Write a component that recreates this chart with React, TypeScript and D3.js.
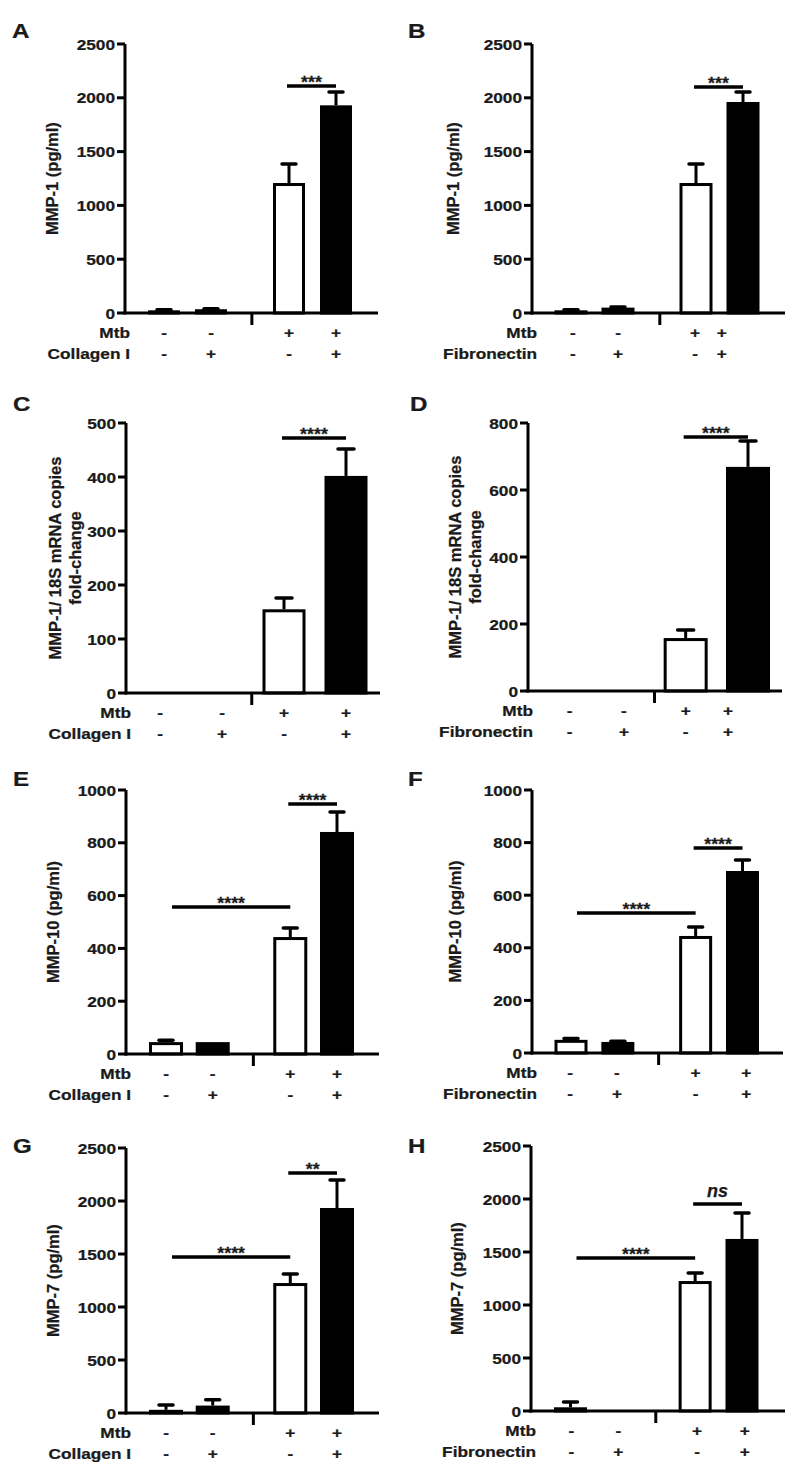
import React from "react";
import * as d3 from "d3";

// ---------- DATA ----------
const groups = ["Mtb-/ECM-", "Mtb-/ECM+", "Mtb+/ECM-", "Mtb+/ECM+"];
const mtbSigns = ["-", "-", "+", "+"];
const ecmSigns = ["-", "+", "-", "+"];

const panelLetters = ["A", "B", "C", "D", "E", "F", "G", "H"];
const ecmNames = ["Collagen I", "Fibronectin", "Collagen I", "Fibronectin", "Collagen I", "Fibronectin", "Collagen I", "Fibronectin"];
const yTitles = [
  ["MMP-1 (pg/ml)"],
  ["MMP-1 (pg/ml)"],
  ["MMP-1/ 18S mRNA copies", "fold-change"],
  ["MMP-1/ 18S mRNA copies", "fold-change"],
  ["MMP-10 (pg/ml)"],
  ["MMP-10 (pg/ml)"],
  ["MMP-7 (pg/ml)"],
  ["MMP-7 (pg/ml)"],
];
const yMaxes = [2500, 2500, 500, 800, 1000, 1000, 2500, 2500];
const yTickSteps = [500, 500, 100, 200, 200, 200, 500, 500];

const meansA = [25, 35, 1208, 1930];
const errA = [5, 5, 177, 124];
const meansB = [25, 50, 1208, 1961];
const errB = [5, 5, 177, 93];
const meansC = [1, 2, 155, 402];
const errC = [0, 0, 21, 50];
const meansD = [1, 2, 158, 669];
const errD = [0, 0, 24, 77];
const meansE = [45, 45, 443, 841];
const errE = [7, 0, 34, 76];
const meansF = [50, 42, 445, 692];
const errF = [5, 3, 34, 42];
const meansG = [30, 70, 1226, 1934];
const errG = [45, 55, 85, 264];
const meansH = [35, 0, 1226, 1623];
const errH = [50, 0, 76, 245];

const sigA = [{ a: 2, b: 3, v: 2110, t: "***" }];
const sigB = [{ a: 2, b: 3, v: 2100, t: "***" }];
const sigC = [{ a: 2, b: 3, v: 472, t: "****" }];
const sigD = [{ a: 2, b: 3, v: 758, t: "****" }];
const sigE = [{ a: 0, b: 2, v: 557, t: "****" }, { a: 2, b: 3, v: 947, t: "****" }];
const sigF = [{ a: 0, b: 2, v: 532, t: "****" }, { a: 2, b: 3, v: 779, t: "****" }];
const sigG = [{ a: 0, b: 2, v: 1472, t: "****" }, { a: 2, b: 3, v: 2264, t: "**" }];
const sigH = [{ a: 0, b: 2, v: 1443, t: "****" }, { a: 2, b: 3, v: 1953, t: "ns" }];

const allMeans = [meansA, meansB, meansC, meansD, meansE, meansF, meansG, meansH];
const allErrs = [errA, errB, errC, errD, errE, errF, errG, errH];
const allSigs = [sigA, sigB, sigC, sigD, sigE, sigF, sigG, sigH];

// ---------- LAYOUT ----------
const STD = [0, 1, 2.66, 3.66];
const EVEN = [0, 1, 2, 3];
const LAYOUT = [
  { axisX: 125, yTop: 44, y0: 313, xEnd: 378, r: [39, 211], slots: STD, bw: 32, brk: 1.87, lab: STD, tdx: [-73], letter: [12, 38], cap: 14 },
  { axisX: 532, yTop: 44, y0: 313, xEnd: 785, r: [39, 211], slots: STD, bw: 33, brk: 1.89, lab: [0.04, 1, 2.64, 3.21], tdx: [-79], letter: [408, 38], cap: 14 },
  { axisX: 126, yTop: 423, y0: 693, xEnd: 380, r: [34, 220], slots: EVEN, bw: 43, brk: 1.48, lab: EVEN, tdx: [-71, -51], letter: [13, 411], cap: 16 },
  { axisX: 528, yTop: 423, y0: 691, xEnd: 782, r: [33, 220], slots: EVEN, bw: 44, brk: 1.5, lab: [0.14, 1.01, 2, 2.68], tdx: [-73, -53], letter: [410, 411], cap: 16 },
  { axisX: 126, yTop: 790, y0: 1054, xEnd: 379, r: [40, 211], slots: STD, bw: 34, brk: 1.87, lab: STD, tdx: [-73], letter: [13, 786], cap: 14 },
  { axisX: 532, yTop: 790, y0: 1053, xEnd: 783, r: [39, 210.5], slots: STD, bw: 33, brk: 1.87, lab: [-0.02, 0.98, 2.66, 3.74], tdx: [-77], letter: [408, 786], cap: 14 },
  { axisX: 126, yTop: 1148, y0: 1413, xEnd: 379, r: [40, 211], slots: STD, bw: 34, brk: 1.87, lab: STD, tdx: [-73], letter: [13, 1153], cap: 14 },
  { axisX: 531, yTop: 1146, y0: 1411, xEnd: 785, r: [39.5, 211], slots: STD, bw: 33, brk: 1.82, lab: [0.02, 1.02, 2.7, 3.72], tdx: [-74], letter: [408, 1153], cap: 14 },
];

const FONT = "'Liberation Sans', Arial, Helvetica, sans-serif";
const SX = 1.15;
const INK = "#1a1a1a";
const fills = ["white", "black", "white", "black"];

function HText({ x, y, size = 15, anchor = "middle", italic = false, sx = SX, children, baseline }: any) {
  return (
    <text
      transform={`translate(${x},${y}) scale(${sx},1)`}
      fontSize={size}
      fontWeight="bold"
      fontStyle={italic ? "italic" : "normal"}
      textAnchor={anchor}
      dominantBaseline={baseline}
      fill={INK}
      stroke={INK}
      strokeWidth={0.25}
      fontFamily={FONT}
    >
      {children}
    </text>
  );
}

function Panel({ idx }: { idx: number }) {
  const L = LAYOUT[idx];
  const means = allMeans[idx];
  const errs = allErrs[idx];
  const sigs = allSigs[idx];
  const lastSlot = L.slots[L.slots.length - 1];
  const x = d3.scaleLinear().domain([0, lastSlot]).range([L.axisX + L.r[0], L.axisX + L.r[1]]);
  const y = d3.scaleLinear().domain([0, yMaxes[idx]]).range([L.y0, L.yTop]);
  const ticks = d3.range(0, yMaxes[idx] + 1, yTickSteps[idx]);
  const sw = 3;
  const titleLines = yTitles[idx];
  const cy = (L.y0 + L.yTop) / 2;

  return (
    <g>
      <HText x={L.letter[0]} y={L.letter[1]} size={21} anchor="start">{panelLetters[idx]}</HText>

      {/* y-axis title */}
      {titleLines.map((t, i) => (
        <text
          key={i}
          transform={`translate(${L.axisX + L.tdx[i]},${cy}) rotate(-90)`}
          fontSize={16.5}
          fontWeight="bold"
          textAnchor="middle"
          dominantBaseline="central"
          fontFamily={FONT}
          fill={INK}
          stroke={INK}
          strokeWidth={0.25}
        >
          {t}
        </text>
      ))}

      {/* bars */}
      {means.map((m, i) => {
        const cx = x(L.slots[i]);
        const top = y(m);
        const h = Math.max(0, L.y0 - top - sw / 2);
        return (
          <rect
            key={groups[i]}
            x={cx - L.bw / 2 + sw / 2}
            y={top + sw / 2}
            width={L.bw - sw}
            height={h}
            fill={fills[i]}
            stroke="black"
            strokeWidth={sw}
          />
        );
      })}

      {/* error bars */}
      {means.map((m, i) => {
        if (!errs[i]) return null;
        const cx = x(L.slots[i]);
        const yt = y(m + errs[i]);
        return (
          <g key={"e" + i}>
            <line x1={cx} x2={cx} y1={y(m)} y2={yt} stroke="black" strokeWidth={3} />
            <line x1={cx - L.cap / 2} x2={cx + L.cap / 2} y1={yt} y2={yt} stroke="black" strokeWidth={3.5} strokeLinecap="round" />
          </g>
        );
      })}

      {/* axes */}
      <line x1={L.axisX} x2={L.axisX} y1={L.yTop} y2={L.y0 + 1.5} stroke="black" strokeWidth={sw} />
      <line x1={L.axisX - 1.5} x2={L.xEnd} y1={L.y0} y2={L.y0} stroke="black" strokeWidth={sw} />
      {ticks.map((t) => (
        <g key={t}>
          <line x1={L.axisX - 8} x2={L.axisX} y1={y(t)} y2={y(t)} stroke="black" strokeWidth={sw} />
          <HText x={L.axisX - 10} y={y(t)} anchor="end" baseline="central">{t}</HText>
        </g>
      ))}
      {/* axis break mark */}
      <line x1={x(L.brk)} x2={x(L.brk)} y1={L.y0} y2={L.y0 + 12} stroke="black" strokeWidth={sw} />

      {/* significance */}
      {sigs.map((s, i) => {
        const x1 = x(L.slots[s.a]) + (s.a === 0 ? 6 : -2);
        const x2 = x(L.slots[s.b]);
        const yy = y(s.v);
        const isNs = s.t === "ns";
        return (
          <g key={"s" + i}>
            <line x1={x1} x2={x2} y1={yy} y2={yy} stroke="black" strokeWidth={3.5} />
            {isNs ? (
              <HText x={(x1 + x2) / 2} y={yy - 7} size={18} sx={1} italic>ns</HText>
            ) : (
              <HText x={(x1 + x2) / 2} y={yy + 2} size={17} sx={1.05}>{s.t}</HText>
            )}
          </g>
        );
      })}

      {/* condition rows */}
      <HText x={L.axisX + 5} y={L.y0 + 25} anchor="end">Mtb</HText>
      <HText x={L.axisX + 5} y={L.y0 + 46} anchor="end">{ecmNames[idx]}</HText>
      {mtbSigns.map((s, i) => (
        <HText key={"m" + i} x={x(L.lab[i])} y={L.y0 + 25}>{s}</HText>
      ))}
      {ecmSigns.map((s, i) => (
        <HText key={"c" + i} x={x(L.lab[i])} y={L.y0 + 46}>{s}</HText>
      ))}
    </g>
  );
}

export default function App() {
  return (
    <svg
      width={800}
      height={1481}
      style={{ position: "absolute", left: 0, top: 0, background: "white" }}
    >
      <rect width={800} height={1481} fill="white" />
      {panelLetters.map((_, i) => (
        <Panel key={i} idx={i} />
      ))}
    </svg>
  );
}
